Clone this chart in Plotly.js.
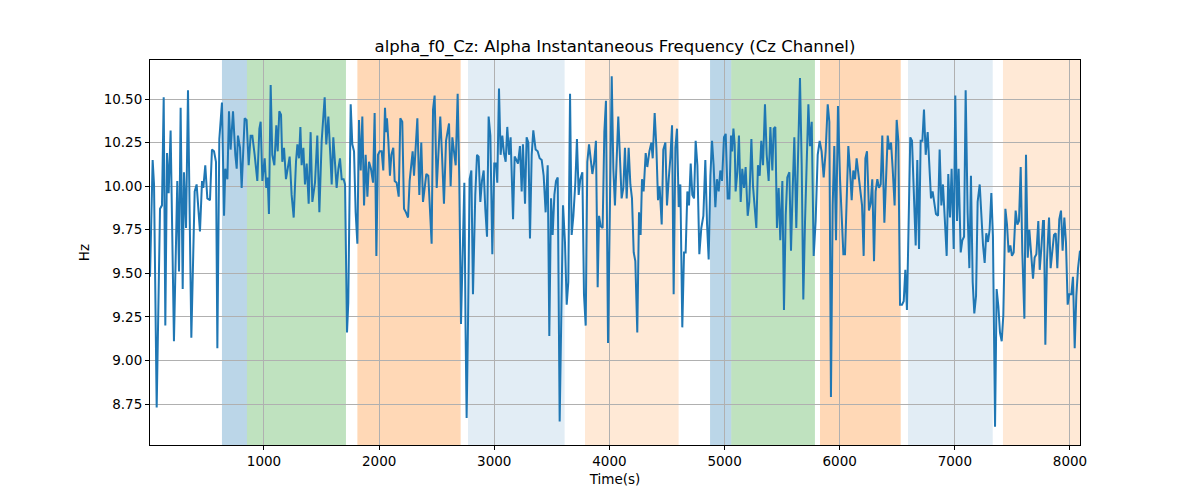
<!DOCTYPE html>
<html>
<head>
<meta charset="utf-8">
<script src="https://cdn.plot.ly/plotly-3.0.1.min.js"></script>
<style>html,body{margin:0;padding:0;background:#fff;}#chart{width:1200px;height:500px;}</style>
</head>
<body>
<div id="chart"></div>
<script>
const timeS = [10,33,45,68,97,114,129,143,158,172,189,218,247,262,276,294,305,323,340,369,398,415,444,462,473,490,508,531,548,566,583,595,612,635,653,664,682,696,710,731,751,763,774,792,806,832,849,867,884,899,919,942,960,971,986,1006,1020,1032,1043,1058,1072,1090,1107,1119,1133,1148,1159,1174,1191,1206,1223,1240,1258,1278,1290,1304,1316,1327,1342,1356,1371,1388,1405,1420,1443,1463,1481,1501,1515,1527,1541,1559,1576,1588,1602,1617,1631,1646,1660,1675,1692,1704,1712,1721,1732,1741,1753,1767,1782,1796,1811,1825,1840,1854,1869,1883,1898,1912,1929,1947,1961,1976,1990,2005,2022,2036,2051,2060,2068,2080,2094,2106,2123,2135,2152,2170,2184,2201,2216,2233,2251,2265,2280,2291,2303,2317,2332,2349,2366,2381,2395,2410,2427,2442,2456,2468,2482,2500,2517,2531,2546,2563,2581,2592,2607,2621,2636,2650,2665,2682,2696,2711,2725,2740,2751,2760,2772,2786,2801,2815,2835,2850,2864,2879,2893,2908,2922,2937,2951,2966,2983,3000,3015,3026,3041,3055,3070,3084,3099,3113,3128,3142,3163,3177,3192,3206,3223,3238,3249,3267,3281,3296,3310,3325,3339,3359,3377,3394,3412,3429,3446,3464,3478,3493,3507,3522,3536,3551,3568,3582,3597,3614,3629,3643,3658,3672,3687,3704,3718,3733,3747,3765,3779,3794,3808,3823,3837,3852,3866,3883,3898,3910,3924,3941,3956,3970,3988,4005,4020,4034,4048,4077,4092,4106,4121,4135,4150,4167,4182,4196,4211,4225,4242,4257,4271,4283,4297,4315,4329,4347,4364,4376,4393,4408,4422,4436,4454,4468,4486,4500,4515,4529,4544,4558,4573,4587,4602,4616,4633,4648,4662,4677,4691,4706,4720,4735,4749,4764,4781,4798,4816,4833,4848,4862,4877,4891,4905,4920,4934,4949,4963,4978,4995,5010,5027,5042,5056,5066,5077,5088,5096,5111,5125,5140,5154,5169,5183,5201,5215,5233,5247,5262,5276,5290,5305,5319,5334,5351,5366,5383,5398,5415,5427,5441,5455,5470,5484,5502,5516,5531,5545,5563,5577,5592,5606,5623,5638,5655,5670,5684,5699,5713,5728,5742,5757,5774,5791,5809,5826,5843,5861,5878,5896,5910,5924,5939,5953,5968,5985,6003,6017,6032,6046,6061,6075,6089,6104,6118,6133,6147,6162,6176,6194,6208,6223,6237,6254,6269,6283,6298,6312,6327,6341,6356,6370,6388,6402,6417,6431,6446,6460,6477,6495,6509,6524,6541,6556,6570,6584,6599,6613,6628,6642,6660,6674,6689,6703,6718,6732,6747,6764,6779,6793,6807,6822,6836,6854,6868,6883,6897,6912,6929,6943,6958,6972,6990,7004,7019,7033,7051,7065,7080,7094,7111,7126,7140,7155,7169,7184,7198,7216,7230,7245,7259,7273,7288,7302,7317,7331,7349,7363,7378,7392,7407,7421,7439,7453,7467,7482,7496,7511,7528,7543,7557,7572,7586,7604,7618,7633,7647,7661,7679,7693,7708,7725,7737,7751,7766,7774,7786,7800,7818,7832,7847,7861,7876,7890,7907,7922,7936,7951,7965,7980,7994,8012,8026,8041,8055,8070,8087];
const alphaHz = [9.48,10.15,10.01,8.73,9.87,9.89,10.51,9.20,10.19,9.96,10.32,9.11,10.03,9.51,10.45,9.41,10.08,9.76,10.55,9.13,9.97,10.01,9.74,10.03,9.99,10.12,9.93,9.92,10.21,10.20,10.14,9.07,10.27,10.48,9.83,10.10,10.04,10.43,10.21,10.43,10.18,10.10,10.29,10.22,9.99,10.39,10.38,10.12,10.29,10.29,10.18,10.03,10.33,10.37,10.03,10.16,9.99,10.05,9.84,10.58,10.18,10.12,10.35,10.20,10.43,10.41,10.14,10.22,10.04,10.10,10.17,9.95,9.82,10.14,10.24,10.16,10.34,10.12,10.22,10.01,10.13,9.90,10.31,9.91,10.02,10.29,9.85,10.26,10.39,10.51,10.24,10.40,10.18,10.01,10.28,10.14,9.99,10.10,10.16,10.04,10.04,10.01,9.70,9.16,9.33,9.99,10.47,10.24,10.20,9.85,9.67,10.38,10.09,10.40,9.89,10.18,9.94,10.14,10.10,10.02,10.42,9.60,10.18,10.20,10.20,10.09,10.45,10.31,10.39,10.26,10.06,10.18,10.22,10.03,10.02,9.94,10.39,10.37,9.87,9.85,9.82,10.03,10.14,10.20,10.06,10.24,10.39,9.95,10.25,9.91,9.99,10.07,10.06,9.85,9.67,10.44,10.52,9.99,10.25,10.40,10.18,9.90,10.26,10.31,10.36,10.00,10.28,10.20,10.12,10.53,10.04,9.21,9.55,10.02,9.16,8.67,9.22,10.04,10.09,9.38,9.95,10.18,10.17,9.91,10.03,10.09,9.87,9.71,10.40,10.29,9.61,10.13,10.13,10.02,10.56,10.18,10.29,10.19,10.14,10.34,10.18,10.28,9.81,10.17,10.15,10.13,10.23,9.97,10.24,9.90,10.28,10.25,9.70,10.18,10.32,10.21,10.20,10.16,10.15,10.06,9.85,10.12,9.14,9.93,9.72,9.95,10.03,10.05,8.65,9.28,9.89,9.68,9.32,9.45,10.53,9.72,9.83,10.02,10.27,9.95,10.04,10.08,9.38,9.20,10.14,10.24,10.16,10.07,10.13,10.26,9.42,9.83,9.77,9.76,10.31,10.49,9.10,9.99,10.63,10.10,9.89,10.40,10.10,9.93,9.99,10.22,9.93,10.22,10.01,9.93,9.62,9.57,9.16,9.85,9.72,10.04,9.97,10.19,10.11,10.20,10.25,10.16,10.42,10.22,9.92,10.00,9.78,10.21,10.25,9.89,10.04,10.16,10.35,9.38,10.22,10.33,9.88,10.01,9.19,9.62,9.62,9.97,9.89,10.13,9.95,9.93,10.26,10.12,9.61,9.76,9.83,10.15,9.78,9.58,10.06,10.26,10.12,9.88,10.04,9.97,10.09,10.03,10.28,10.30,9.93,9.93,10.29,10.20,10.33,10.24,9.97,10.08,10.29,9.91,10.10,9.99,10.11,9.83,9.91,10.27,10.00,9.87,9.76,10.12,10.06,10.26,10.12,10.47,10.18,10.03,10.34,10.09,10.33,10.34,9.76,9.99,9.69,10.03,9.29,9.83,10.05,10.08,9.63,9.99,10.28,9.76,10.18,10.62,10.12,9.35,9.80,10.08,10.47,10.23,10.37,9.60,9.80,10.18,10.26,10.20,10.05,10.20,10.47,10.37,8.79,9.89,10.23,9.69,10.46,10.04,9.85,9.61,9.61,9.89,10.23,10.10,9.92,10.09,10.04,10.16,10.06,10.00,9.89,9.60,10.16,10.20,9.86,9.90,10.04,9.57,9.97,10.04,9.99,10.01,10.29,9.79,10.04,10.29,10.21,10.25,10.10,9.89,10.38,10.26,9.32,9.32,9.34,9.52,9.29,9.76,10.28,10.26,9.99,9.66,10.15,9.64,10.26,10.26,10.44,10.18,10.31,10.10,9.93,9.97,9.91,9.84,9.83,10.21,9.89,10.01,9.82,9.60,10.07,9.82,10.10,9.64,10.52,9.80,10.10,9.62,9.69,9.71,10.55,9.85,9.53,10.06,9.45,9.27,9.37,9.91,10.01,9.83,9.66,9.56,9.73,9.68,9.75,9.96,9.71,8.62,9.41,9.31,9.16,9.11,9.26,9.87,9.78,9.62,9.66,9.60,9.62,9.86,9.78,9.80,10.11,9.62,9.24,10.18,9.59,9.75,9.64,9.47,9.59,9.61,9.80,9.52,9.64,9.80,9.80,9.09,9.57,9.82,9.53,9.62,9.72,9.73,9.53,9.81,9.86,9.63,9.82,9.68,9.32,9.38,9.38,9.48,9.07,9.37,9.53,9.63];

// Shaded phases
const spanStart = [635, 852, 1811, 2772, 3788, 4874, 5058, 5829, 6593, 7418];
const spanEnd   = [852, 1712, 2708, 3611, 4601, 5058, 5785, 6530, 7329, 8087];
const spanKind  = ['blue', 'green', 'orange', 'lightblue', 'lightorange', 'blue', 'green', 'orange', 'lightblue', 'lightorange'];

const yTicks = [8.75, 9.00, 9.25, 9.50, 9.75, 10.00, 10.25, 10.50];
const xTicks = [1000, 2000, 3000, 4000, 5000, 6000, 7000, 8000];

const kindColor = {
  blue: 'rgba(31,119,180,0.3)',
  green: 'rgba(44,160,44,0.3)',
  orange: 'rgba(255,127,14,0.3)',
  lightblue: 'rgba(31,119,180,0.13)',
  lightorange: 'rgba(255,127,14,0.17)'
};

const shapes = spanStart.map((s, i) => ({
  type: 'rect', xref: 'x', yref: 'paper', x0: s, x1: spanEnd[i], y0: 0, y1: 1,
  fillcolor: kindColor[spanKind[i]], line: {width: 0}, layer: 'below'
}));

const font = 'DejaVu Sans, sans-serif';

const trace = {
  x: timeS, y: alphaHz, type: 'scatter', mode: 'lines',
  line: {color: '#1f77b4', width: 2}, hoverinfo: 'skip'
};

const layout = {
  width: 1200, height: 500,
  margin: {l: 150, r: 120, t: 60, b: 55},
  paper_bgcolor: '#ffffff', plot_bgcolor: '#ffffff',
  showlegend: false,
  font: {family: font, color: '#000000', size: 13.5},
  title: {text: 'alpha_f0_Cz: Alpha Instantaneous Frequency (Cz Channel)', font: {family: font, size: 16.5, color: '#000'},
          x: 0.5, xref: 'paper', xanchor: 'center', y: 1 - 46/500, yref: 'container', yanchor: 'middle'},
  xaxis: {
    range: [10, 8087], tickvals: xTicks, ticktext: xTicks.map(String),
    showgrid: true, gridcolor: '#b0b0b0', gridwidth: 1, zeroline: false,
    showline: true, mirror: true, linecolor: '#000', linewidth: 1,
    ticks: 'outside', ticklen: 4, tickcolor: '#000', tickwidth: 1,
    tickfont: {family: font, size: 13.5, color: '#000'},
    title: {text: 'Time(s)', font: {family: font, size: 13.5, color: '#000'}, standoff: 6}
  },
  yaxis: {
    range: [8.515, 10.724], tickvals: yTicks, ticktext: yTicks.map(v => v.toFixed(2)),
    showgrid: true, gridcolor: '#b0b0b0', gridwidth: 1, zeroline: false,
    showline: true, mirror: true, linecolor: '#000', linewidth: 1,
    ticks: 'outside', ticklen: 4, tickcolor: '#000', tickwidth: 1,
    tickfont: {family: font, size: 13.5, color: '#000'},
    title: {text: 'Hz', font: {family: font, size: 13.5, color: '#000'}, standoff: 10}
  },
  shapes: shapes
};

Plotly.newPlot('chart', [trace], layout, {staticPlot: true, displayModeBar: false});
</script>
</body>
</html>
